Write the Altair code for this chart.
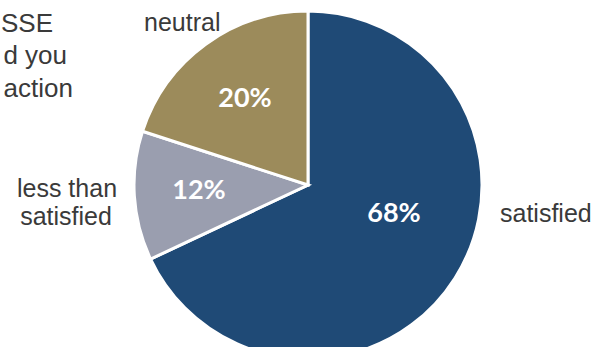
import altair as alt
import pandas as pd

categories = ["satisfied", "less than satisfied", "neutral"]
values = [68, 12, 20]
colors = ["#1F4A76", "#9A9EAF", "#9C8B5B"]
title_lines = ["SSE", "d you", "action"]

df = pd.DataFrame({"category": categories, "value": values, "order": list(range(len(categories)))})

CX, CY, R = 308, 185, 174
W, H = 598, 347
TXT = "#3a3a3a"

pie = alt.Chart(df).mark_arc(radius=R, stroke="white", strokeWidth=3).encode(
    theta=alt.Theta("value:Q", stack=True),
    order=alt.Order("order:Q"),
    color=alt.Color("category:N", scale=alt.Scale(domain=categories, range=colors), legend=None),
    x=alt.value(CX),
    y=alt.value(CY),
)

base = alt.Chart(pd.DataFrame({"_": [0]}))


def label(text, x, y, size, color, align="left", weight="normal", font="Liberation Sans"):
    return base.mark_text(
        text=text, align=align, baseline="alphabetic", fontSize=size,
        fontWeight=weight, font=font, color=color,
    ).encode(x=alt.value(x), y=alt.value(y))


pct = [f"{v}%" for v in values]
layers = [pie]
# percentage labels
layers.append(label(pct[0], 394, 222, 27, "white", "center", "bold", "Lato"))
layers.append(label(pct[1], 199, 199, 27, "white", "center", "bold", "Lato"))
layers.append(label(pct[2], 245, 107, 27, "white", "center", "bold", "Lato"))
# category labels
layers.append(label(categories[0], 500, 222, 25, TXT, "left"))
layers.append(label("less than", 67, 197, 25, TXT, "center"))
layers.append(label("satisfied", 66, 225, 25, TXT, "center"))
layers.append(label(categories[2], 144, 31, 25, TXT, "left"))
# cropped title text
layers.append(label(title_lines[0], 53, 32, 26, TXT, "right"))
layers.append(label(title_lines[1], 67, 64, 26, TXT, "right"))
layers.append(label(title_lines[2], 73, 97, 26, TXT, "right"))

chart = alt.layer(*layers).properties(
    width=W, height=H,
    autosize=alt.AutoSizeParams(type="none"),
    padding=0,
).configure_view(stroke=None)

chart.save("out.html", embed_options={"renderer": "svg", "actions": False})
